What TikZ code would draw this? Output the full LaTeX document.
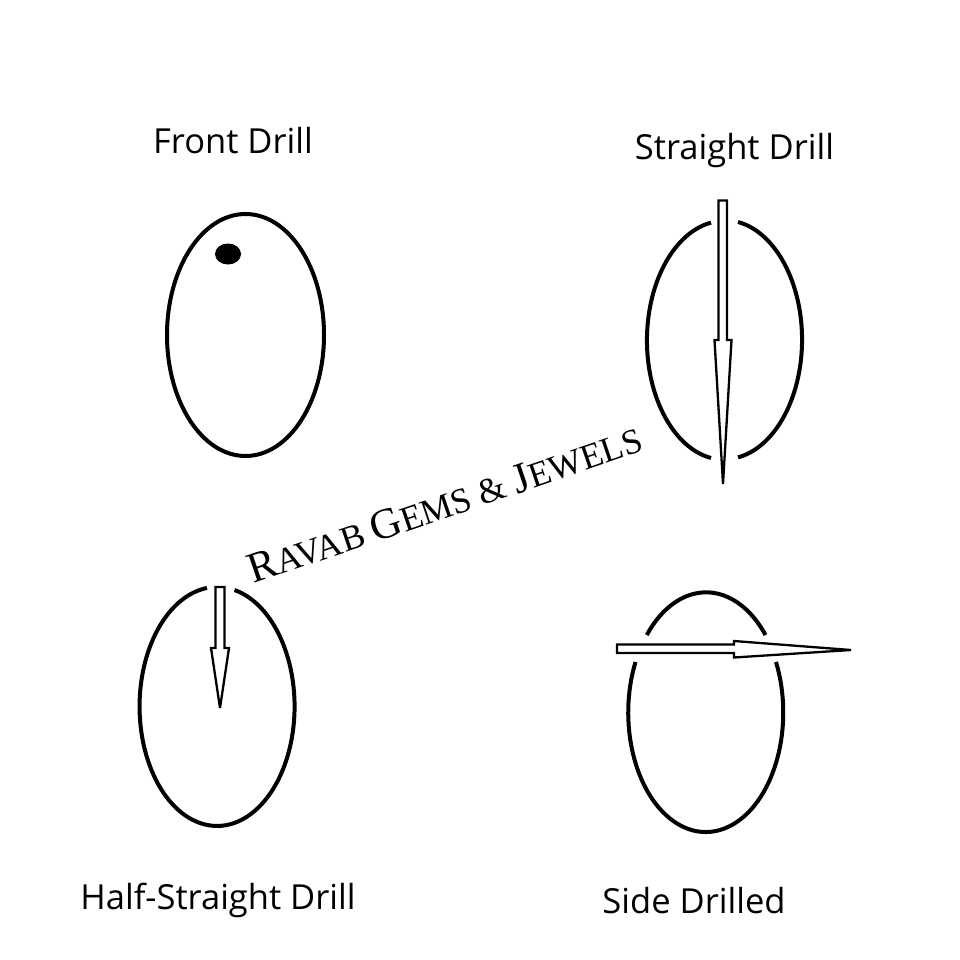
\documentclass[tikz,border=0pt]{standalone}
\usepackage{fontspec}
\usepackage{tikz}
\usetikzlibrary{shapes.geometric}
\setmainfont{Open Sans}
\newfontfamily\wmfont{Liberation Serif}
\tikzset{
  drillname/.style={font=\fontsize{34.5}{40}\selectfont, inner sep=0pt, anchor=base},
  gemring/.style={ellipse, draw=black, line width=4pt, minimum width=157pt, minimum height=242pt, inner sep=0pt},
  gemarc/.style={draw=black, line width=4pt, x radius=77.5pt, y radius=119.5pt},
  drillbit/.style={draw=black, fill=white, line width=2.3pt, line join=miter, miter limit=4},
  drillhole/.style={ellipse, fill=black, minimum width=26pt, minimum height=21pt, inner sep=0pt},
  wmark/.style={font=\wmfont\fontsize{35.5}{44}\selectfont, rotate=18.8, inner sep=0pt},
}
\newcommand{\wmcap}[1]{{\fontsize{43}{48}\selectfont #1}}
\begin{document}
\begin{tikzpicture}[x=1pt, y=-1pt]
\useasboundingbox (0,0) rectangle (960,960);

\node[drillname] (frontname) at (233,154) {Front Drill};
\node[drillname] (straightname) at (734.5,160) {Straight Drill};
\node[drillname] (halfname) at (218,909) {Half-Straight Drill};
\node[drillname] (sidename) at (694,913) {Side Drilled};

\node[gemring] (frontgem) at (245.5,335) {};
\node[drillhole] (fronthole) at (228,254) {};

\draw[gemarc] (738,222) arc[start angle=80, end angle=-80];
\draw[gemarc] (711,458) arc[start angle=260, end angle=100];
\draw[drillbit] (718.5,340) -- (718.5,200.5) -- (727,200.5) -- (727,340) -- (731.5,340) -- (723,484) -- (714.5,340) -- cycle;

\draw[gemarc] (234.5,590) arc[start angle=77, end angle=-262.5];
\draw[drillbit] (215.5,648) -- (215.5,587) -- (224.5,587) -- (224.5,648) -- (229,648) -- (220,708) -- (211,648) -- cycle;

\draw[gemarc] (765.5,635) arc[start angle=40, end angle=140];
\draw[gemarc] (635.5,662) arc[start angle=155, end angle=385];
\draw[drillbit] (734,644.5) -- (617,644.5) -- (617,653) -- (734,653) -- (734,657.5) -- (851,650) -- (734,641) -- cycle;

\node[wmark] (ravab) at (445,504) {\wmcap{R}AVAB \wmcap{G}EMS \& \wmcap{J}EWELS};
\end{tikzpicture}
\end{document}
